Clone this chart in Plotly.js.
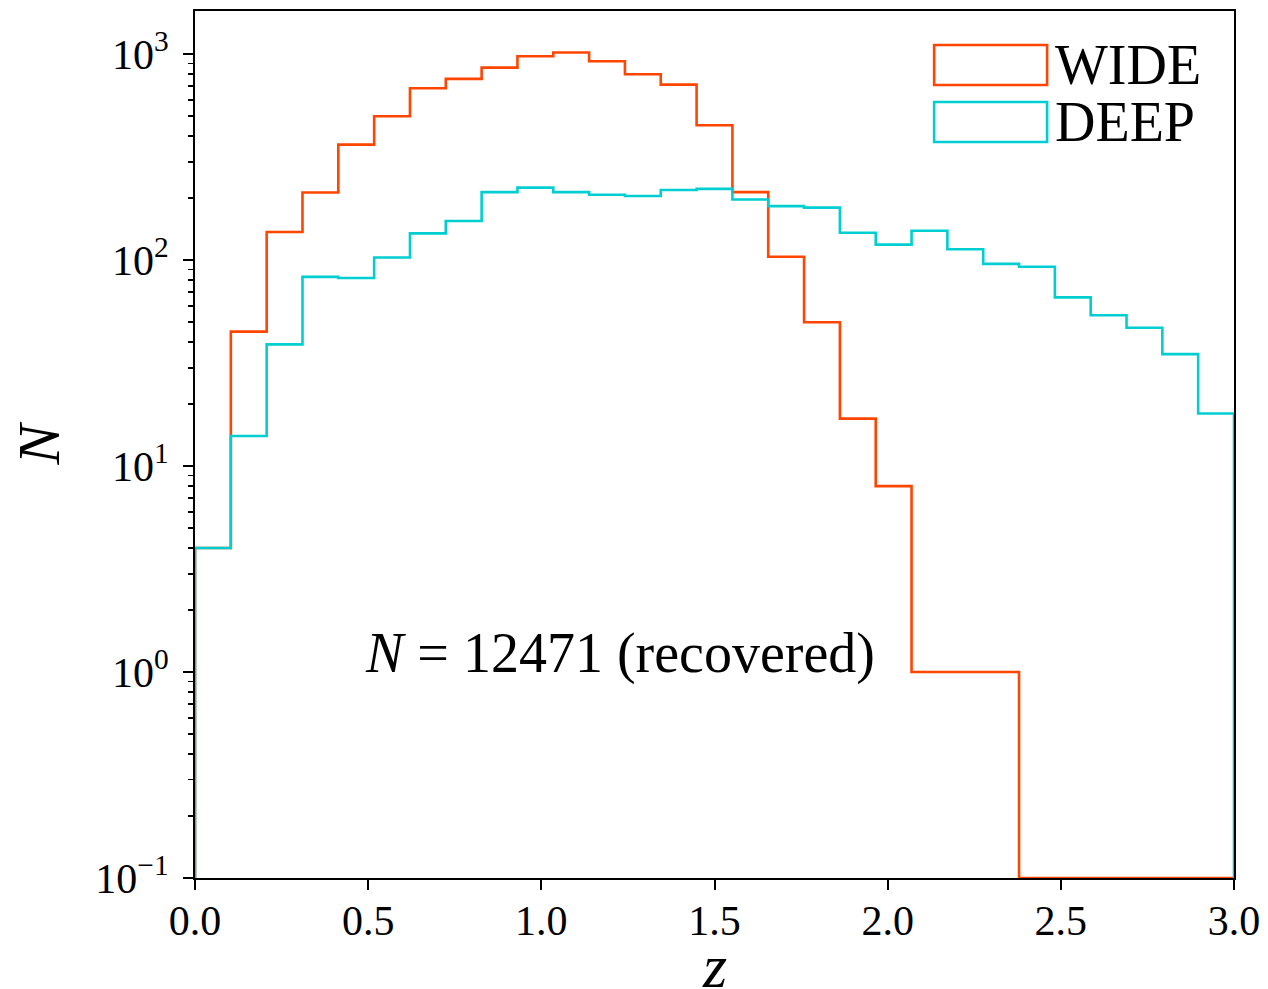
<!DOCTYPE html>
<html>
<head>
<meta charset="utf-8">
<script src="https://cdn.plot.ly/plotly-3.0.1.min.js"></script>
<style>html,body{margin:0;padding:0;background:#fff;}#chart{width:1268px;height:989px;}</style>
</head>
<body>
<div id="chart"></div>
<script>
// Histogram of redshift z, 29 equal bins from 0 to 3
const zMin = 0.0;
const zMax = 3.0;
const nBins = 29;
const wideCounts = [4, 45, 137, 213, 364, 500, 684, 759, 861, 978, 1019, 925, 800, 712, 452, 214, 104, 50, 17, 8, 1, 1, 1, 0, 0, 0, 0, 0, 0];
const deepCounts = [4, 14, 39, 83, 82, 103, 135, 155, 214, 225, 214, 208, 205, 219, 222, 197, 183, 180, 136, 119, 139, 113, 96, 93, 66, 54, 47, 35, 18];
const seriesNames = ["WIDE", "DEEP"];
const seriesColors = ["#FF4500", "#00CED1"];
const yTickVals = [0.1, 1, 10, 100, 1000];
const yTickText = ["10<sup>−1</sup>", "10<sup>0</sup>", "10<sup>1</sup>", "10<sup>2</sup>", "10<sup>3</sup>"];
const xTickVals = [0.0, 0.5, 1.0, 1.5, 2.0, 2.5, 3.0];
const xTickText = ["0.0", "0.5", "1.0", "1.5", "2.0", "2.5", "3.0"];
const xTitle = "<i>z</i>";
const yTitle = "<i>N</i>";
const noteText = "<i>N</i> = 12471 (recovered)";

const yFloor = 0.1; // empty bins sit on the bottom of the log axis
const edges = [];
for (let i = 0; i <= nBins; i++) edges.push(zMin + (zMax - zMin) * i / nBins);

function stepOutline(counts) {
  const xs = [edges[0]], ys = [yFloor];
  counts.forEach((c, i) => {
    const v = Math.max(c, yFloor);
    xs.push(edges[i], edges[i + 1]);
    ys.push(v, v);
  });
  xs.push(edges[nBins]); ys.push(yFloor);
  return {x: xs, y: ys};
}

const FONT = "Liberation Serif, Times New Roman, serif";
const traces = [wideCounts, deepCounts].map((counts, k) => {
  const s = stepOutline(counts);
  return {
    type: "scatter", mode: "lines", x: s.x, y: s.y, name: seriesNames[k],
    line: {color: seriesColors[k], width: 2.6, shape: "linear"},
    showlegend: false, hoverinfo: "skip"
  };
});

const minorVals = [];
for (let d = -1; d < 4; d++) for (let m = 2; m <= 9; m++) minorVals.push(m * Math.pow(10, d));

// legend drawn as outlined boxes + text
const legX0 = 0.7114, legX1 = 0.8201;
const legRows = [[0.9608, 0.9146], [0.8950, 0.8489]];
const shapes = legRows.map((r, k) => ({
  type: "rect", xref: "paper", yref: "paper", x0: legX0, x1: legX1, y0: r[1], y1: r[0],
  line: {color: seriesColors[k], width: 2.6}, fillcolor: "rgba(0,0,0,0)"
}));
const annotations = legRows.map((r, k) => ({
  xref: "paper", yref: "paper", x: legX1 + 0.006, y: (r[0] + r[1]) / 2,
  xanchor: "left", yanchor: "middle", text: seriesNames[k], showarrow: false,
  font: {family: FONT, size: 56, color: "#000"}
}));
annotations.push({
  xref: "paper", yref: "paper", x: 0.409, y: 0.2595, xanchor: "center", yanchor: "middle",
  text: noteText, showarrow: false, font: {family: FONT, size: 56, color: "#000"}
});
// x-axis title placed below the tick labels
annotations.push({
  xref: "paper", yref: "paper", x: 0.5, y: -0.1015, xanchor: "center", yanchor: "middle",
  height: 44, valign: "middle",
  text: xTitle, showarrow: false, font: {family: FONT, size: 62, color: "#000"}
});

const layout = {
  width: 1268, height: 989,
  margin: {l: 194.5, r: 34, t: 11, b: 111, pad: 0},
  paper_bgcolor: "#fff", plot_bgcolor: "#fff",
  font: {family: FONT, color: "#000"},
  showlegend: false,
  xaxis: {
    range: [zMin, zMax], tickmode: "array", tickvals: xTickVals, ticktext: xTickText,
    ticks: "outside", ticklen: 10, tickwidth: 2, tickcolor: "#000",
    showline: true, linecolor: "#000", linewidth: 2, mirror: true,
    showgrid: false, zeroline: false,
    tickfont: {family: FONT, size: 42, color: "#000"},
    ticklabelstandoff: -5,
    automargin: false
  },
  yaxis: {
    type: "log", range: [-1, 3.21], tickmode: "array", tickvals: yTickVals, ticktext: yTickText,
    ticks: "outside", ticklen: 10, tickwidth: 2, tickcolor: "#000",
    minor: {tickmode: "array", tickvals: minorVals, ticks: "outside", ticklen: 5, tickwidth: 1.5, tickcolor: "#000", showgrid: false},
    showline: true, linecolor: "#000", linewidth: 2, mirror: true,
    showgrid: false, zeroline: false,
    tickfont: {family: FONT, size: 42, color: "#000"},
    ticklabelstandoff: 6,
    title: {text: yTitle, font: {family: FONT, size: 60, color: "#000"}, standoff: 16},
    automargin: false
  },
  shapes: shapes,
  annotations: annotations
};

Plotly.newPlot("chart", traces, layout, {displayModeBar: false, staticPlot: true});
</script>
</body>
</html>
